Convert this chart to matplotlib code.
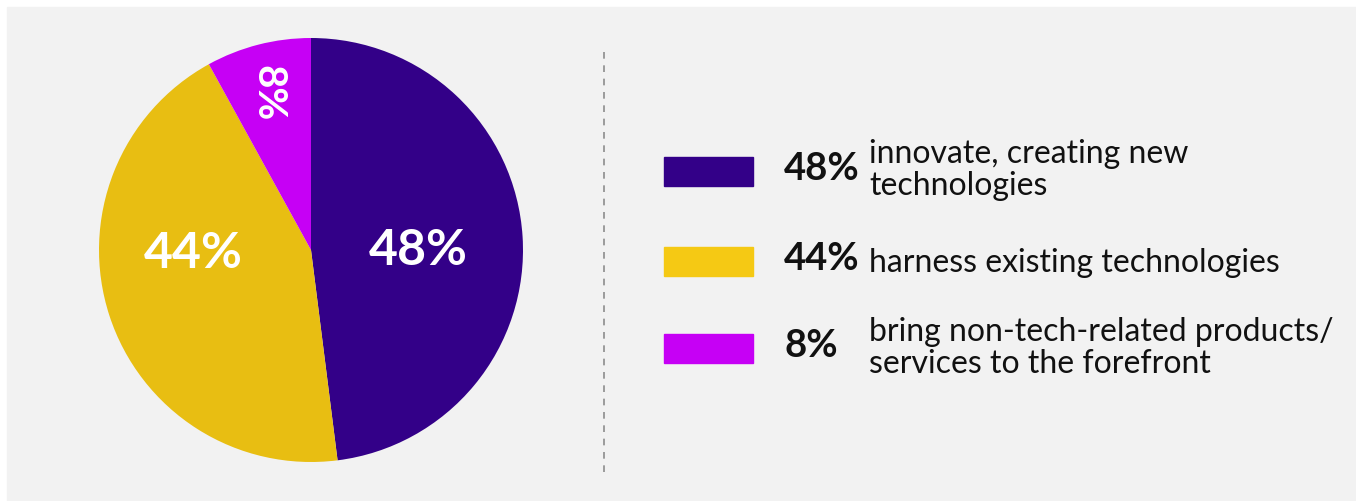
import matplotlib.pyplot as plt
from matplotlib.patches import Rectangle

shares = [48, 44, 8]
pie_labels = ["48%", "44%", "8%"]
pie_colors = ["#330088", "#e8be12", "#c600f5"]

legend_pct = ["48%", "44%", "8%"]
legend_text = ["innovate, creating new\ntechnologies",
               "harness existing technologies",
               "bring non-tech-related products/\nservices to the forefront"]
legend_colors = ["#330088", "#f5c914", "#c600f5"]

plt.rcParams['font.family'] = ['Lato', 'DejaVu Sans']

W, H = 1356, 502
fig = plt.figure(figsize=(W / 100, H / 100), dpi=100)
fig.patch.set_facecolor("white")

# background panel + legend area in pixel coords
bg = fig.add_axes([0, 0, 1, 1])
bg.set_xlim(0, W)
bg.set_ylim(H, 0)
bg.axis("off")
bg.add_patch(Rectangle((7, 8), W, H, color="#f2f2f2", zorder=0))
bg.plot([604, 604], [53, 478], color="#8c8c8c", lw=1.2, ls=(0, (4, 4)))

row_y = [172, 262, 349]
txt_y = [170, 263, 348]
for y, ty, pct, txt, c in zip(row_y, txt_y, legend_pct, legend_text, legend_colors):
    bg.add_patch(Rectangle((664, y - 14.5), 89, 29, color=c))
    bg.text(784, y - 3, pct, fontsize=27.5, fontweight="bold", color="#111111",
            va="center", ha="left")
    bg.text(869, ty, txt, fontsize=23, color="#111111",
            va="center", ha="left", linespacing=1.05)

# pie
cx, cy, r = 311, 251, 212
ax = fig.add_axes([(cx - r) / W, (H - cy - r) / H, 2 * r / W, 2 * r / H])
wedges, _ = ax.pie(shares, colors=pie_colors, startangle=90, counterclock=False,
                   radius=1, wedgeprops=dict(linewidth=0))
ax.set_xlim(-1, 1)
ax.set_ylim(-1, 1)
ax.set_aspect("equal")

label_pos = [(0.505, 0.0), (-0.555, -0.01), (-0.205, 0.745)]
label_rot = [0, 0, -90]
label_size = [36, 36, 29]
for (x, y), lab, rot, fs in zip(label_pos, pie_labels, label_rot, label_size):
    ax.text(x, y, lab, color="white", fontsize=fs, fontweight="bold",
            ha="center", va="center", rotation=rot)

fig.savefig("out.png", dpi=100, facecolor=fig.get_facecolor())
